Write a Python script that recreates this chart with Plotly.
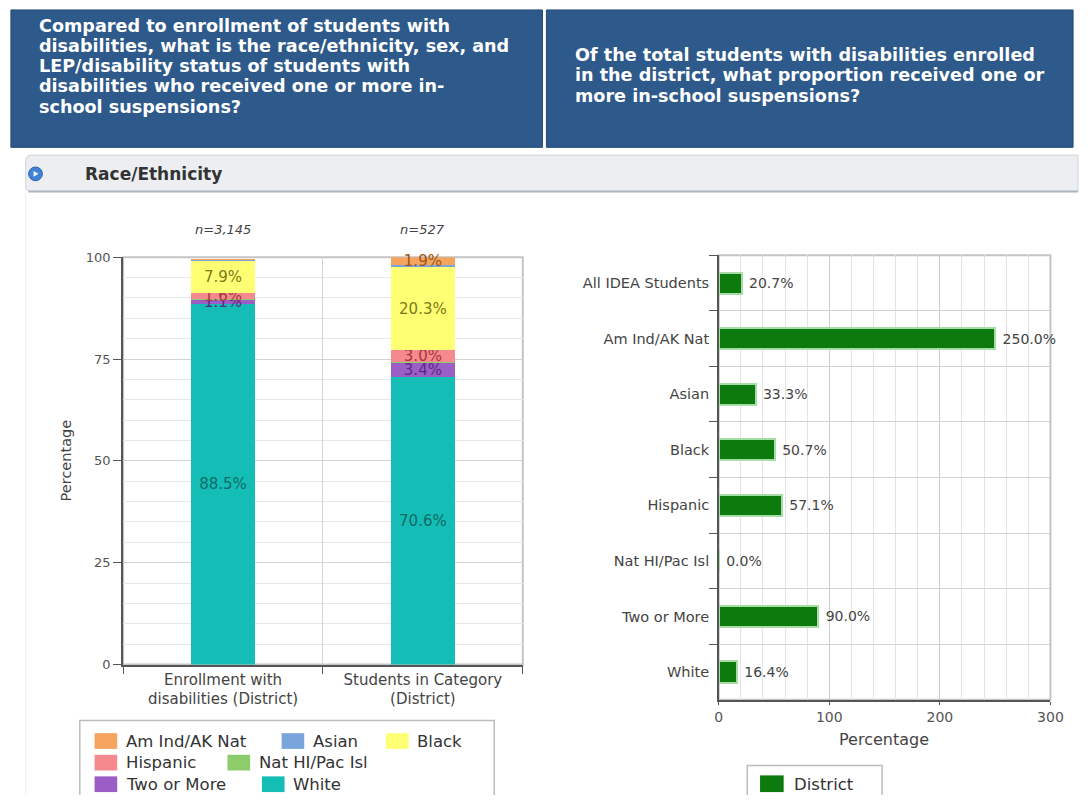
import plotly.graph_objects as go

W, H = 1091, 804

# ---- data: composition of students with disabilities (stacked columns) ----
column_categories = ["Enrollment with<br>disabilities (District)", "Students in Category<br>(District)"]
column_counts = ["n=3,145", "n=527"]
groups = ["Am Ind/AK Nat", "Asian", "Black", "Hispanic", "Nat HI/Pac Isl", "Two or More", "White"]
enrollment_pct = [0.1, 0.1, 7.9, 1.6, 0.1, 1.1, 88.5]
in_category_pct = [1.9, 0.6, 20.3, 3.0, 0.2, 3.4, 70.6]
group_colors = ["#f4a45e", "#7aa5dc", "#ffff73", "#f5898d", "#8ccc6a", "#9a5ec6", "#14bdb6"]
label_colors = ["#9a5518", "#2f5a92", "#7c7a1c", "#a8353c", "#3f7a2a", "#5a2b82", "#0e6c66"]

# ---- data: in-school suspension rate by group (horizontal bars) ----
rate_categories = ["All IDEA Students", "Am Ind/AK Nat", "Asian", "Black", "Hispanic",
                   "Nat HI/Pac Isl", "Two or More", "White"]
rate_values = [20.7, 250.0, 33.3, 50.7, 57.1, 0.0, 90.0, 16.4]

FONT = "DejaVu Sans"
HEAD_FONT = "DejaVu Sans"


def px(x):
    return min(max(x, 0), W) / W


def py(y):
    return 1 - min(max(y, 0), H) / H


fig = go.Figure()

# stacked columns: first trace sits at the bottom, so add groups bottom-up
for name, color, tcolor, a, b in reversed(list(zip(groups, group_colors, label_colors,
                                                    enrollment_pct, in_category_pct))):
    vals = [a, b]
    fig.add_trace(go.Bar(
        x=column_categories, y=vals, name=name, width=0.32,
        marker=dict(color=color, line=dict(width=0)),
        text=[f"{v:.1f}%" if v >= 1 else "" for v in vals],
        textposition="inside", insidetextanchor="middle", constraintext="none",
        textangle=0, textfont=dict(family=FONT, size=15, color=tcolor),
        cliponaxis=False, showlegend=False, xaxis="x", yaxis="y",
    ))

# horizontal rate bars
fig.add_trace(go.Bar(
    x=rate_values, y=rate_categories, orientation="h", name="District", width=0.38,
    marker=dict(color="#0d7a0d", line=dict(color="#a6dca6", width=2)),
    text=[f"\u00a0{v:.1f}%" for v in rate_values], textposition="outside",
    textfont=dict(family=FONT, size=14, color="#444444"),
    cliponaxis=False, showlegend=False, xaxis="x2", yaxis="y2",
))

grid_major = "#d2d2d2"
grid_minor = "#e8e8e8"
axis_dark = "#555555"

fig.update_layout(
    width=W, height=H, margin=dict(l=0, r=0, t=0, b=0),
    paper_bgcolor="white", plot_bgcolor="white", barmode="stack",
    font=dict(family=FONT, color="#444444"),
    xaxis=dict(domain=[px(121), px(527)], anchor="y", type="category",
               showline=True, linecolor=axis_dark, linewidth=2,
               ticks="outside", tickson="boundaries", ticklen=7, tickcolor=axis_dark,
               showgrid=True, gridcolor=grid_major,
               tickfont=dict(family=FONT, size=15, color="#444444")),
    yaxis=dict(domain=[py(670), py(255)], anchor="x", range=[0, 100], dtick=25,
               showline=True, linecolor=axis_dark, linewidth=2,
               ticks="outside", ticklen=8, tickcolor=axis_dark,
               showgrid=True, gridcolor=grid_major, zeroline=False,
               minor=dict(dtick=5, showgrid=True, gridcolor=grid_minor, ticks=""),
               tickfont=dict(family=FONT, size=13, color="#555555")),
    xaxis2=dict(domain=[px(726), px(1063)], anchor="y2", range=[0, 300], dtick=100,
                showline=True, linecolor=axis_dark, linewidth=2,
                ticks="outside", ticklen=3, tickcolor=axis_dark,
                showgrid=True, gridcolor="#cccccc", zeroline=False,
                minor=dict(dtick=20, showgrid=True, gridcolor="#e3e3e3", ticks=""),
                tickfont=dict(family=FONT, size=14, color="#555555")),
    yaxis2=dict(domain=[py(706), py(253)], anchor="x2", type="category",
                autorange="reversed",
                showline=True, linecolor=axis_dark, linewidth=2,
                ticks="outside", tickson="boundaries", ticklen=8, tickcolor=axis_dark,
                ticksuffix="\u00a0",
                showgrid=True, gridcolor=grid_major,
                tickfont=dict(family=FONT, size=14.5, color="#444444")),
)

shapes = []
annotations = []

# ---- header boxes ----
head_fill = "#2d5a8b"
shapes.append(dict(type="rect", xref="paper", yref="paper", x0=px(7), x1=px(547), y0=py(143), y1=py(3),
                   fillcolor=head_fill, line=dict(color="#244a74", width=1), layer="below"))
shapes.append(dict(type="rect", xref="paper", yref="paper", x0=px(551), x1=px(1086), y0=py(143), y1=py(3),
                   fillcolor=head_fill, line=dict(color="#244a74", width=1), layer="below"))

left_head = ["Compared to enrollment of students with",
             "disabilities, what is the race/ethnicity, sex, and",
             "LEP/disability status of students with",
             "disabilities who received one or more in-",
             "school suspensions?"]
right_head = ["Of the total students with disabilities enrolled",
              "in the district, what proportion received one or",
              "more in-school suspensions?"]
for i, line in enumerate(left_head):
    annotations.append(dict(xref="paper", yref="paper", x=px(34), y=py(19 + 20.6 * i),
                            xanchor="left", yanchor="middle", showarrow=False, text=f"<b>{line}</b>",
                            font=dict(family=HEAD_FONT, size=17.6, color="white")))
for i, line in enumerate(right_head):
    annotations.append(dict(xref="paper", yref="paper", x=px(578), y=py(49 + 20.8 * i),
                            xanchor="left", yanchor="middle", showarrow=False, text=f"<b>{line}</b>",
                            font=dict(family=HEAD_FONT, size=17.6, color="white")))

# ---- section strip ----
x0s, x1s, y0s, y1s, r = 22, 1091, 151, 188, 6
strip_path = (f"M {px(x0s + r)},{py(y0s)} L {px(x1s)},{py(y0s)} L {px(x1s)},{py(y1s)} "
              f"L {px(x0s + r)},{py(y1s)} Q {px(x0s)},{py(y1s)} {px(x0s)},{py(y1s - r)} "
              f"L {px(x0s)},{py(y0s + r)} Q {px(x0s)},{py(y0s)} {px(x0s + r)},{py(y0s)} Z")
shapes.append(dict(type="path", xref="paper", yref="paper", path=strip_path,
                   fillcolor="#eceef1", line=dict(color="#cdd3d9", width=1), layer="below"))
shapes.append(dict(type="line", xref="paper", yref="paper", x0=px(x0s + 3), x1=px(1091),
                   y0=py(y1s), y1=py(y1s), line=dict(color="#aab4be", width=2), layer="below"))
shapes.append(dict(type="line", xref="paper", yref="paper", x0=px(22), x1=px(22),
                   y0=py(190), y1=py(803), line=dict(color="#eeeeee", width=1), layer="below"))
shapes.append(dict(type="circle", xref="paper", yref="paper", x0=px(25), x1=px(39), y0=py(177), y1=py(163),
                   fillcolor="#3f82d6", line=dict(color="#2d63a8", width=1)))
shapes.append(dict(type="path", xref="paper", yref="paper",
                   path=f"M {px(30)},{py(167)} L {px(35)},{py(170)} L {px(30)},{py(173)} Z",
                   fillcolor="white", line=dict(width=0)))
annotations.append(dict(xref="paper", yref="paper", x=px(80), y=py(170), xanchor="left", yanchor="middle",
                        showarrow=False, text="<b>Race/Ethnicity</b>",
                        font=dict(family=HEAD_FONT, size=17, color="#333333")))

# ---- plot frames (light top/right border) ----
shapes.append(dict(type="rect", xref="x domain", yref="y domain", x0=0, x1=1, y0=0, y1=1,
                   line=dict(color="#c4c4c4", width=2), layer="below"))
shapes.append(dict(type="rect", xref="x2 domain", yref="y2 domain", x0=0, x1=1, y0=0, y1=1,
                   line=dict(color="#c4c4c4", width=2), layer="below"))

# ---- axis titles and column counts ----
annotations.append(dict(xref="paper", yref="paper", x=px(63), y=py(462), textangle=-90,
                        xanchor="center", yanchor="middle", showarrow=False, text="Percentage",
                        font=dict(family=FONT, size=14.5, color="#444444")))
annotations.append(dict(xref="paper", yref="paper", x=px(894), y=py(746),
                        xanchor="center", yanchor="middle", showarrow=False, text="Percentage",
                        font=dict(family=FONT, size=16, color="#444444")))
for i, n in enumerate(column_counts):
    annotations.append(dict(xref="x", yref="y", x=i, y=100, yshift=28, showarrow=False,
                            xanchor="center", yanchor="middle",
                            text=f"<i>{n}</i>", font=dict(family=FONT, size=13, color="#444444")))

# ---- legend for the stacked columns ----
shapes.append(dict(type="path", xref="paper", yref="paper",
                   path=f"M {px(77)},{py(803)} L {px(77)},{py(727)} L {px(498)},{py(727)} L {px(498)},{py(803)}",
                   line=dict(color="#bdbdbd", width=1.5), fillcolor="rgba(0,0,0,0)", layer="below"))
legend_slots = {  # swatch left edge, row centre
    "Am Ind/AK Nat": (92, 748), "Asian": (282, 748), "Black": (388, 748),
    "Hispanic": (92, 770), "Nat HI/Pac Isl": (227, 770),
    "Two or More": (92, 792), "White": (262, 792),
}
for name, color in zip(groups, group_colors):
    lx, ly = legend_slots[name]
    shapes.append(dict(type="rect", xref="paper", yref="paper", x0=px(lx), x1=px(lx + 23),
                       y0=py(ly + 8), y1=py(ly - 8), fillcolor=color, line=dict(width=0)))
    annotations.append(dict(xref="paper", yref="paper", x=px(lx + 30), y=py(ly), xanchor="left",
                            yanchor="middle", showarrow=False, text=name,
                            font=dict(family=FONT, size=16.5, color="#333333")))

# ---- legend for the rate bars ----
shapes.append(dict(type="path", xref="paper", yref="paper",
                   path=f"M {px(755)},{py(803)} L {px(755)},{py(773)} L {px(892)},{py(773)} L {px(892)},{py(803)}",
                   line=dict(color="#bdbdbd", width=1.5), fillcolor="rgba(0,0,0,0)", layer="below"))
shapes.append(dict(type="rect", xref="paper", yref="paper", x0=px(768), x1=px(792), y0=py(800), y1=py(783),
                   fillcolor="#0d7a0d", line=dict(width=0)))
annotations.append(dict(xref="paper", yref="paper", x=px(800), y=py(792), xanchor="left", yanchor="middle",
                        showarrow=False, text="District",
                        font=dict(family=FONT, size=16.5, color="#333333")))

fig.update_layout(shapes=shapes, annotations=annotations)

fig.write_html("out.html")
